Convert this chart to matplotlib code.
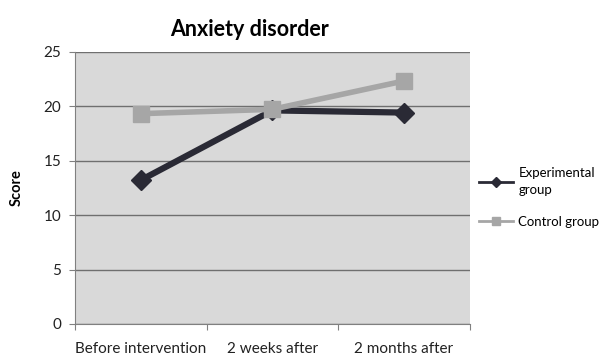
import matplotlib
matplotlib.use("Agg")
import matplotlib.pyplot as plt
import numpy as np

categories = ["Before intervention", "2 weeks after", "2 months after"]
experimental = [13.2, 19.6, 19.4]
control = [19.3, 19.7, 22.3]
y_ticks = [0, 5, 10, 15, 20, 25]

plt.rcParams["font.family"] = ["Lato", "DejaVu Sans"]

fig = plt.figure(figsize=(6.10, 3.58), dpi=100)
fig.patch.set_facecolor("white")
ax = fig.add_axes([0.123, 0.095, 0.647, 0.761])
ax.set_facecolor("#d9d9d9")

x = np.arange(1, len(categories) + 1)
ax.plot(x, experimental, color="#2a2a35", lw=4.5, marker="D", ms=10,
        markerfacecolor="#2a2a35", markeredgecolor="#2a2a35",
        label="Experimental\ngroup", zorder=3)
ax.plot(x, control, color="#a6a6a6", lw=4, marker="s", ms=12,
        markerfacecolor="#a6a6a6", markeredgecolor="#a6a6a6",
        label="Control group", zorder=4)

ax.set_xlim(0.5, len(categories) + 0.5)
ax.set_ylim(0, 25)
ax.set_yticks(y_ticks)
ax.set_yticklabels([str(v) for v in y_ticks], fontsize=11, color="#222222")
ax.yaxis.grid(True, color="#6f6f6f", lw=1)
ax.set_axisbelow(True)

ax.set_xticks(np.arange(0.5, len(categories) + 1, 1))
ax.set_xticklabels([])
ax.set_xticks(x, minor=True)
ax.set_xticklabels(categories, minor=True, fontsize=11, color="#222222")
ax.tick_params(axis="x", which="minor", length=0, pad=13)
ax.tick_params(axis="x", which="major", length=4, color="#808080", direction="out")
ax.tick_params(axis="y", length=4, color="#808080", pad=6)

for s in ["top", "right"]:
    ax.spines[s].set_visible(False)
ax.spines["left"].set_color("#808080")
ax.spines["bottom"].set_color("#808080")

ax.set_ylabel("Score", fontsize=10.5, fontweight="bold", labelpad=14)
fig.text(250 / 610, 1 - 30 / 358, "Anxiety disorder", fontsize=15.5,
         fontweight="bold", ha="center", va="center")

leg = fig.legend(loc="center left", bbox_to_anchor=(0.785, 0.448),
                 frameon=False, fontsize=9.5, handlelength=2.6,
                 markerscale=0.5, labelspacing=1.5, handletextpad=0.4,
                 borderaxespad=0, borderpad=0)
for t in leg.get_texts():
    t.set_linespacing(1.5)
for h in leg.legend_handles:
    h.set_linewidth(2)

fig.savefig("out.png", dpi=100)
